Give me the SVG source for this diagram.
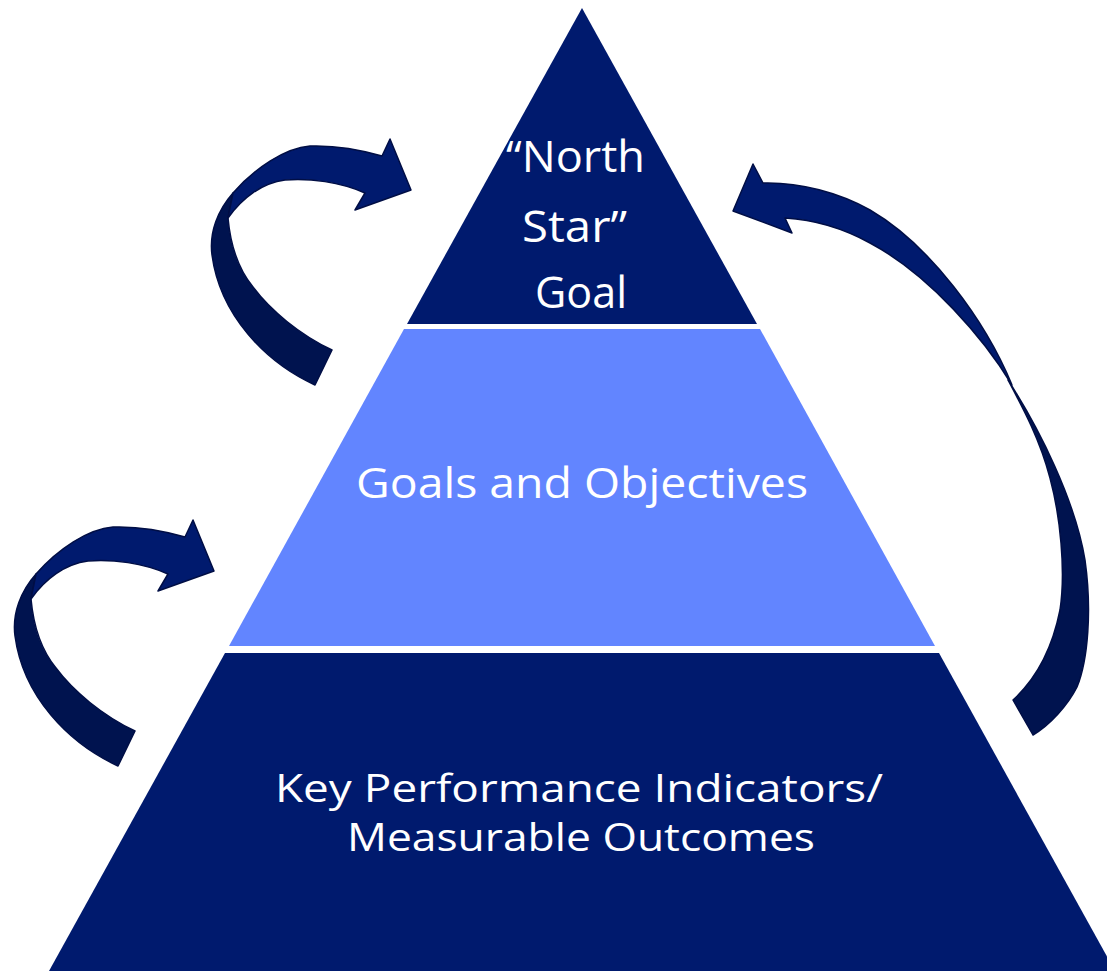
<svg xmlns="http://www.w3.org/2000/svg" width="1107" height="971" viewBox="0 0 1107 971">
<style>
.dark{fill:#001a6e}
.light{fill:#6285ff}
.lbl{font-family:"Open Sans","DejaVu Sans",sans-serif;fill:#ffffff;font-size:42px}
.sm{font-size:39px}
.lg{font-size:44px}
.front{fill:#001a6e;stroke:#000e45;stroke-width:1.5;stroke-linejoin:round}
.back{fill:#00134f;stroke:#000e45;stroke-width:1.5;stroke-linejoin:round}
</style>
<defs>
<g id="curlArrow">
<path class="back" d="M332,350 L315,385 C265,362 220,315 212,255 C209,232 218,210 233,193 L228,218 C230,240 235,265 253,287 C270,310 300,335 332,350 Z"/>
<path class="front" d="M233,193 C255,168 285,148 310,146 C340,145 365,151 382,156 L390,139 L411,190 L355,210 L365,193 C340,182 310,178 285,180 C262,183 242,198 228,218 Z"/>
</g>
</defs>
<rect width="1107" height="971" fill="#ffffff"/>
<g id="top">
<polygon class="dark" points="582,8 757,324 407,324"/>
<text class="lbl lg" x="506" y="172" textLength="139" lengthAdjust="spacingAndGlyphs">“North</text>
<text class="lbl lg" x="522" y="242" textLength="105" lengthAdjust="spacingAndGlyphs">Star”</text>
<text class="lbl lg" x="535" y="308" textLength="92" lengthAdjust="spacingAndGlyphs">Goal</text>
</g>
<g id="middle">
<polygon class="light" points="404,329 760,329 935,646 229,646"/>
<text class="lbl" x="356" y="498" textLength="452" lengthAdjust="spacingAndGlyphs">Goals and Objectives</text>
</g>
<g id="bottom">
<polygon class="dark" points="225,653 939,653 1115,971 49,971"/>
<text class="lbl sm" x="275" y="802" textLength="608" lengthAdjust="spacingAndGlyphs">Key Performance Indicators/</text>
<text class="lbl sm" x="347" y="851" textLength="468" lengthAdjust="spacingAndGlyphs">Measurable Outcomes</text>
</g>
<g id="connectors">
<use href="#curlArrow"/>
<use href="#curlArrow" transform="translate(-197,381)"/>
<path class="back" d="M1008,380 C1040,430 1075,500 1085,560 C1092,610 1088,660 1077,687 C1068,705 1050,725 1033,735 L1013,700 C1035,680 1052,650 1060,610 C1066,570 1060,515 1050,478 C1040,440 1024,410 1008,380 Z"/>
<path class="front" d="M763,183 C800,182 840,193 870,210 C930,245 985,320 1012,385 C985,340 930,275 870,243 C850,232 820,220 785,218 L792,233 L733,211 L753,164 Z"/>
</g>
</svg>
